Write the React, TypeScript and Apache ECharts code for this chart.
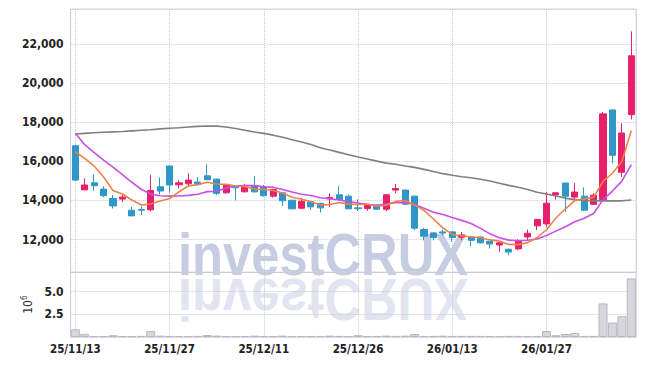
import React, { useEffect, useRef } from 'react';
import * as echarts from 'echarts';

const dates = [
  '25/11/13','25/11/14','25/11/17','25/11/18','25/11/19','25/11/20','25/11/21','25/11/24','25/11/25','25/11/26',
  '25/11/27','25/11/28','25/12/01','25/12/02','25/12/03','25/12/04','25/12/05','25/12/08','25/12/09','25/12/10',
  '25/12/11','25/12/12','25/12/15','25/12/16','25/12/17','25/12/18','25/12/19','25/12/22','25/12/23','25/12/24',
  '25/12/26','25/12/29','25/12/30','26/01/02','26/01/05','26/01/06','26/01/07','26/01/08','26/01/09','26/01/12',
  '26/01/13','26/01/14','26/01/15','26/01/16','26/01/19','26/01/20','26/01/21','26/01/22','26/01/23','26/01/26',
  '26/01/27','26/01/28','26/01/29','26/01/30','26/02/02','26/02/03','26/02/04','26/02/05','26/02/06','26/02/09',
];

const opens = [
  16800,14540,14900,14580,14100,14070,13500,13540,13520,14700,
  15760,14800,14850,14940,15260,15090,14390,14700,14440,14750,
  14700,14220,14390,14010,13600,13930,13850,14080,14290,14220,
  13620,13590,13760,13550,14530,14530,14220,12510,12340,12390,
  12390,12120,12130,12130,11910,11720,11500,11520,12130,12700,
  12800,14290,14890,14170,14220,13800,14050,18630,15440,18390,
];
const closes = [
  15040,14790,14750,14240,13720,14170,13210,13500,14510,14480,
  14790,14900,15040,14850,15060,14360,14790,14650,14680,14440,
  14240,14560,13980,13570,13960,13670,13620,14150,14050,13570,
  13580,13740,13550,14290,14610,13810,12580,12170,12100,12330,
  12100,12220,11960,11830,11770,11830,11360,11910,12320,13030,
  13860,14390,14220,14430,13500,14270,18430,16310,17450,21400,
];
const lows = [
  15000,14540,14490,14170,13590,13910,13210,13250,13450,14310,
  14390,14620,14720,14770,15050,14270,14350,14000,14420,14400,
  14200,14150,13720,13560,13550,13520,13380,13660,14000,13560,
  13450,13470,13540,13450,14360,13790,12480,11960,11960,12220,
  11880,11960,11660,11800,11540,11380,11200,11450,11960,12480,
  12650,14050,13420,14050,13480,13780,13930,15900,15200,18150,
];
const highs = [
  16850,15130,15330,14730,14270,14310,13670,13690,15300,15180,
  15780,15030,15380,15200,15850,15120,14830,14720,14850,15250,
  14790,14600,14420,14020,14130,13960,13880,14360,14730,14310,
  14050,13760,13780,14300,14840,14560,14250,12600,12360,12510,
  12420,12390,12150,12150,11930,11850,11540,12020,12510,13050,
  14430,14420,14900,14900,14670,14370,18530,18650,17950,22650,
];

const ma5 = [
  16490,16150,15760,15200,14510,14330,14020,13770,13820,13970,
  14100,14440,14740,14810,14930,14840,14820,14740,14710,14580,
  14560,14510,14380,14160,14060,13950,13760,13790,13890,13810,
  13790,13820,13700,13750,13950,14000,13770,13490,13050,12600,
  12260,12180,12140,12090,11980,11920,11750,11740,11840,12090,
  12500,13100,13560,13990,14080,14160,14970,15390,15990,17570,
];
const ma10 = [
  17440,16850,16450,16060,15700,15320,14930,14570,14330,14240,
  14220,14230,14260,14320,14450,14470,14630,14740,14760,14760,
  14700,14670,14560,14430,14320,14250,14140,14090,14020,13940,
  13870,13790,13750,13820,13880,13900,13790,13600,13400,13280,
  13130,12980,12820,12570,12290,12090,11970,11940,11960,12030,
  12210,12430,12650,12910,13090,13330,14040,14480,14990,15830,
];
const ma60 = [
  17400,17430,17460,17490,17510,17530,17560,17590,17620,17660,
  17690,17720,17760,17790,17810,17800,17760,17680,17590,17500,
  17430,17340,17230,17110,16990,16860,16700,16580,16460,16340,
  16220,16120,16010,15910,15850,15760,15690,15590,15480,15370,
  15290,15210,15160,15080,14990,14880,14770,14670,14560,14420,
  14330,14230,14120,14040,14000,13990,13980,13980,13980,14020,
];

// volume in millions of shares
const volumes = [
  0.85,0.35,0.12,0.1,0.2,0.1,0.08,0.12,0.65,0.15,
  0.12,0.1,0.1,0.12,0.22,0.15,0.1,0.1,0.1,0.15,
  0.1,0.1,0.15,0.1,0.1,0.1,0.12,0.15,0.12,0.1,
  0.2,0.1,0.12,0.15,0.12,0.15,0.33,0.1,0.12,0.15,
  0.12,0.12,0.12,0.12,0.1,0.1,0.12,0.12,0.1,0.12,
  0.66,0.2,0.33,0.44,0.12,0.12,3.7,1.6,2.3,6.46,
];

const UP = '#e8206b';
const DOWN = '#2f96c8';
const FONT = '"DejaVu Sans Condensed", "DejaVu Sans", sans-serif';
const GRIDLINE = { color: '#c6c9dc', type: 'dotted' as const, width: 1 };
const WM_FONT = 'bold 60px "Liberation Sans", Arial, sans-serif';

export default function App() {
  const ref = useRef<HTMLDivElement>(null);
  useEffect(() => {
    if (!ref.current) return;
    const chart = echarts.init(ref.current, undefined, { renderer: 'svg' });
    const candleData = dates.map((_, i) => [opens[i], closes[i], lows[i], highs[i]]);
    const labelStyle = { fontFamily: FONT, fontWeight: 'bold' as const, color: '#222' };
    const hiddenValueX = (gridIndex: number) => ({
      type: 'value', gridIndex, min: -0.5, max: dates.length - 0.5, splitNumber: 6,
      axisLine: { show: false }, axisTick: { show: false }, axisLabel: { show: false },
      splitLine: { show: true, lineStyle: GRIDLINE },
    });
    chart.setOption({
      animation: false,
      backgroundColor: '#fff',
      grid: [
        { left: 70.6, right: 9, top: 9, height: 263.3, show: true, borderColor: '#d4d4de', borderWidth: 1 },
        { left: 70.6, right: 9, top: 272.3, height: 64.7, show: true, borderColor: '#d4d4de', borderWidth: 1 },
      ],
      graphic: [
        {
          type: 'text', x: 178, y: 254, scaleX: 0.845, z: -1,
          style: { text: 'investCRUX', font: WM_FONT, fill: '#c6cde3', verticalAlign: 'middle', align: 'left' },
        },
        {
          type: 'text', x: 178, y: 300, scaleX: 0.845, scaleY: -1, z: -1,
          style: { text: 'investCRUX', font: WM_FONT, fill: '#e2e5f0', verticalAlign: 'middle', align: 'left' },
        },
      ],
      xAxis: [
        {
          type: 'category', gridIndex: 0, data: dates, boundaryGap: true,
          axisLine: { show: false }, axisTick: { show: false }, axisLabel: { show: false },
          splitLine: { show: false },
        },
        {
          type: 'category', gridIndex: 1, data: dates, boundaryGap: true,
          axisLine: { show: false }, axisTick: { show: false },
          axisLabel: { ...labelStyle, fontSize: 11.5, interval: 9, margin: 6 },
          splitLine: { show: false },
        },
        hiddenValueX(0),
        hiddenValueX(1),
      ],
      yAxis: [
        {
          type: 'value', gridIndex: 0, min: 10323, max: 23795, splitNumber: 6,
          axisLine: { show: false }, axisTick: { show: false },
          axisLabel: {
            ...labelStyle, fontSize: 12, margin: 7, showMinLabel: false, showMaxLabel: false,
            formatter: (v: number) => (v % 2000 === 0 ? v.toLocaleString('en-US') : ''),
          },
          splitLine: { show: true, lineStyle: GRIDLINE },
        },
        {
          type: 'value', gridIndex: 1, min: 0, max: 7.13, interval: 2.5,
          axisLine: { show: false }, axisTick: { show: false },
          axisLabel: {
            ...labelStyle, fontSize: 12, margin: 7,
            formatter: (v: number) => (v === 2.5 || v === 5 ? v.toFixed(1) : ''),
          },
          splitLine: { show: true, lineStyle: GRIDLINE },
          name: '{a|10}{b|6}', nameLocation: 'middle', nameGap: 34, nameRotate: 90,
          nameTextStyle: {
            rich: {
              a: { fontFamily: FONT, fontSize: 12, color: '#333' },
              b: { fontFamily: FONT, fontSize: 8, color: '#333', verticalAlign: 'top', padding: [0, 0, 7, 0] },
            },
          },
        },
      ],
      series: [
        {
          type: 'candlestick', xAxisIndex: 0, yAxisIndex: 0, data: candleData, barWidth: 6.6,
          itemStyle: { color: UP, color0: DOWN, borderColor: UP, borderColor0: DOWN, borderWidth: 1 },
        },
        { type: 'line', xAxisIndex: 0, yAxisIndex: 0, data: ma60, showSymbol: false, lineStyle: { color: '#7f7f7f', width: 1.6 } },
        { type: 'line', xAxisIndex: 0, yAxisIndex: 0, data: ma10, showSymbol: false, lineStyle: { color: '#c94fe6', width: 1.6 } },
        { type: 'line', xAxisIndex: 0, yAxisIndex: 0, data: ma5, showSymbol: false, lineStyle: { color: '#ef8247', width: 1.6 } },
        {
          type: 'bar', xAxisIndex: 1, yAxisIndex: 1, data: volumes, barCategoryGap: '4%',
          itemStyle: { color: '#d6d6dc', borderColor: '#b8b8c2', borderWidth: 1 },
        },
      ],
    });
    return () => chart.dispose();
  }, []);
  return <div ref={ref} style={{ position: 'fixed', left: 0, top: 0, width: 645, height: 366, background: '#fff' }} />;
}
